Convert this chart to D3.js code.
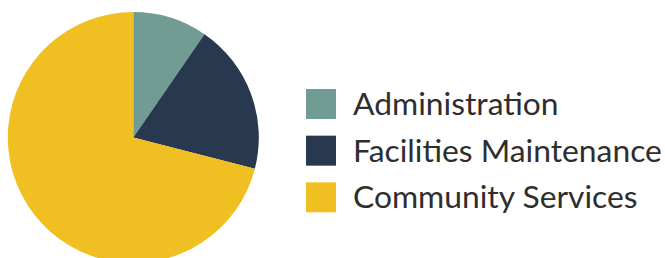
<!DOCTYPE html>
<html lang="en">
<head>
  <meta charset="UTF-8" />
  <script src="https://d3js.org/d3.v7.min.js"></script>
  <style>
    body { margin: 0; background: #fff; }
    svg { display: block; }
    text.legend { font: 31.8px 'Lato', sans-serif; fill: #2e2e2e; }
  </style>
</head>
<body>
  <svg></svg>
  <script>
    const categories = ["Administration", "Facilities Maintenance", "Community Services"];
    const values = [9.6, 19.4, 71.0];
    const colors = ["#709c94", "#28384f", "#f0bf21"];

    const width = 665, height = 258;
    const svg = d3.select("svg").attr("width", width).attr("height", height);

    const color = d3.scaleOrdinal().domain(categories).range(colors);

    const pie = d3.pie().sort(null).value(d => d.value);
    const arc = d3.arc().innerRadius(0).outerRadius(125.5);
    const data = categories.map((c, i) => ({ name: c, value: values[i] }));

    svg.append("g")
      .attr("transform", "translate(133.3,137.5)")
      .selectAll("path")
      .data(pie(data))
      .join("path")
      .attr("d", arc)
      .attr("fill", d => color(d.data.name));

    const y = d3.scaleBand().domain(categories).range([81, 221]);

    const legend = svg.append("g")
      .selectAll("g")
      .data(categories)
      .join("g")
      .attr("transform", d => `translate(306,${y(d)})`);

    legend.append("rect")
      .attr("y", 8)
      .attr("width", 30)
      .attr("height", 30)
      .attr("fill", d => color(d));

    legend.append("text")
      .attr("class", "legend")
      .attr("x", 47)
      .attr("y", 34)
      .text(d => d);
  </script>
</body>
</html>
